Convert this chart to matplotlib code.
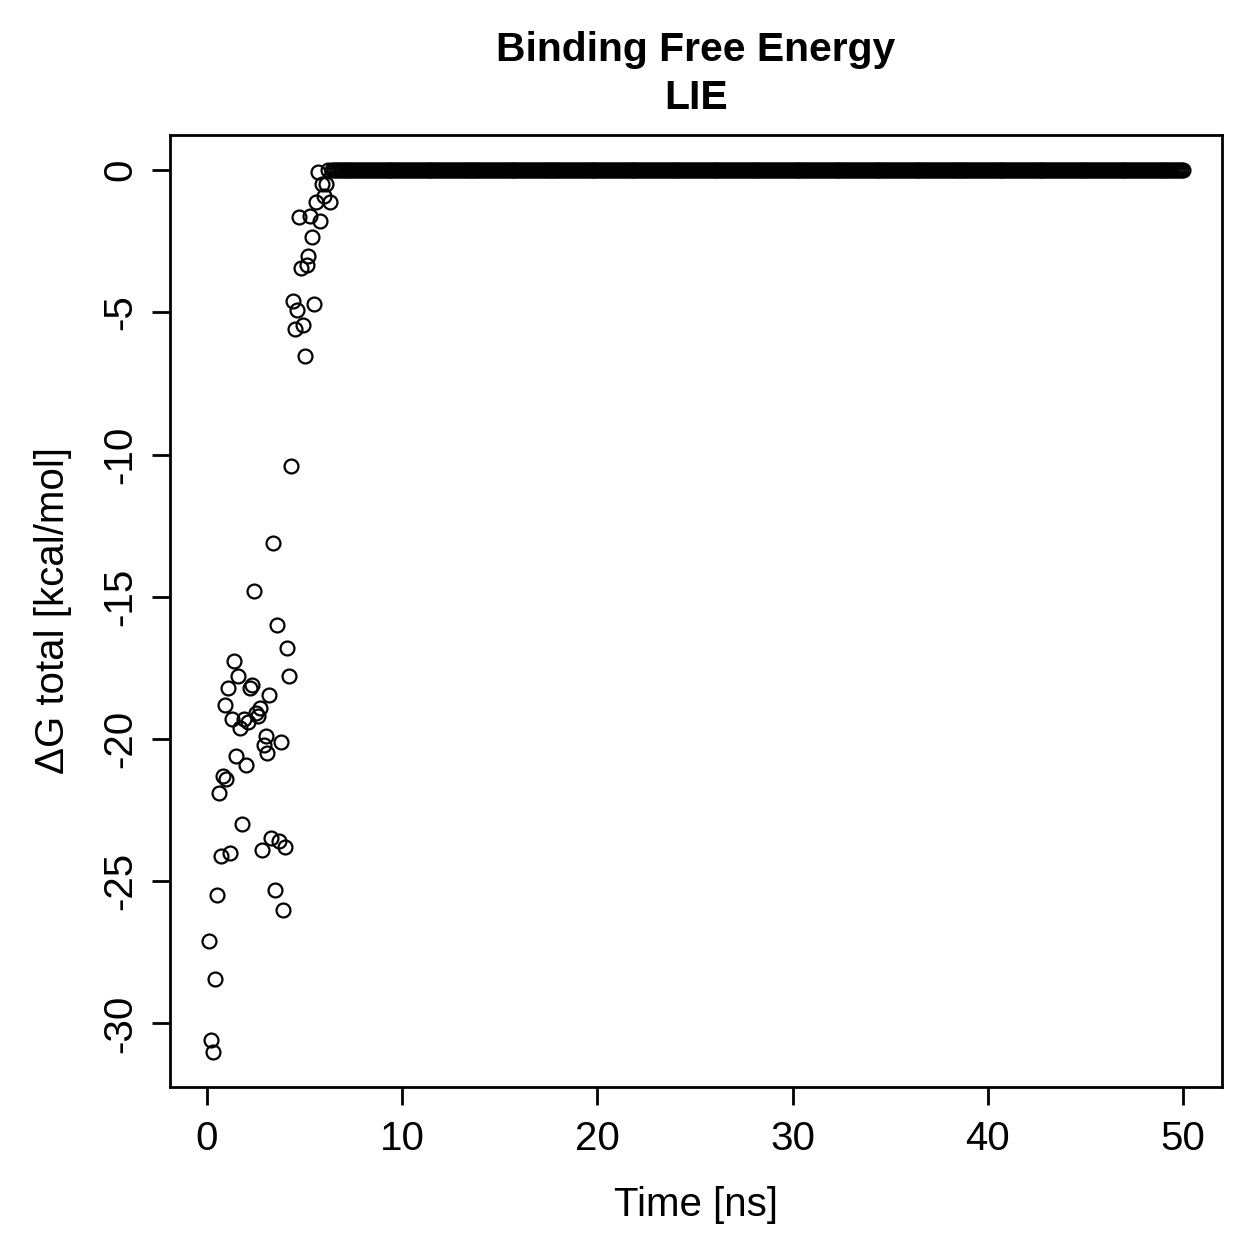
"""
Binding free energy (LIE) over simulation time, R base-graphics look
"""

import matplotlib
matplotlib.use('Agg')
import matplotlib.pyplot as plt
import numpy as np

# Time grid of the trajectory: one frame every 0.1 ns up to 50 ns
time_step = 0.1
n_frames = 500

# Read-off values for the first frames (0.1 ns .. 6.1 ns)
dg_early = [
    -27.1, -30.6, -31.0, -28.45, -25.5, -21.9, -24.1, -21.3, -18.8, -21.4,
    -18.2, -24.0, -19.3, -17.25, -20.6, -17.8, -19.6, -23.0, -19.3, -20.9,
    -19.4, -18.2, -18.1, -14.8, -19.1, -19.2, -18.9, -23.9, -20.2, -19.9,
    -20.5, -18.45, -23.5, -13.1, -25.3, -16.0, -23.6, -20.1, -26.0, -23.8,
    -16.8, -17.8, -10.4, -4.6, -5.6, -4.9, -1.65, -3.45, -5.45, -6.55,
    -3.35, -3.0, -1.6, -2.35, -4.7, -1.1, -0.05, -1.8, -0.5, -0.9,
    -0.5,
]
# Frames 6.2 ns .. 50 ns: read as 0 (the flat line); 6.3 ns sits below it
dg_tail = [0.0, -1.1] + [0.0] * (n_frames - len(dg_early) - 2)

time = np.arange(1, n_frames + 1) * time_step
dg_total = np.array(dg_early + dg_tail)

# Figure set up like an R png: 7 in at 180 dpi -> 1259 px
fig = plt.figure(figsize=(12.59, 12.59), dpi=100)
fig.subplots_adjust(left=0.135, right=0.9706, bottom=0.1366, top=0.8928)
ax = fig.add_subplot(111)

plt.rcParams['font.family'] = ['Liberation Sans', 'DejaVu Sans']
font = {'family': ['Liberation Sans', 'DejaVu Sans'], 'size': 29}

ax.plot(time, dg_total, linestyle='none', marker='o', markersize=10,
        markerfacecolor='none', markeredgecolor='black',
        markeredgewidth=1.6)

# R default 4% padding around the data range
x_pad = 0.04 * (time.max() - time.min())
y_pad = 0.04 * (dg_total.max() - dg_total.min())
ax.set_xlim(time.min() - x_pad, time.max() + x_pad)
ax.set_ylim(dg_total.min() - y_pad, dg_total.max() + y_pad)

ax.set_xticks(np.arange(0, 51, 10))
ax.set_yticks(np.arange(-30, 1, 5))
ax.set_xticklabels([str(v) for v in range(0, 51, 10)], fontdict=font)
ax.set_yticklabels([str(v) for v in range(-30, 1, 5)], fontdict=font,
                   rotation=90, va='center')
ax.tick_params(direction='out', length=13, width=2, color='black')
ax.tick_params(axis='x', pad=10.5)
ax.tick_params(axis='y', pad=9)
for spine in ax.spines.values():
    spine.set_linewidth(2)

ax.set_xlabel('Time [ns]', fontdict=font)
ax.set_ylabel('\u0394G total [kcal/mol]', fontdict=font)
ax.xaxis.set_label_coords(0.5, -0.104)
ax.yaxis.set_label_coords(-0.093, 0.5)

ax.set_title('Binding Free Energy\nLIE', fontfamily=font['family'],
             fontsize=29.4, fontweight='bold', linespacing=1.32, pad=19)

plt.savefig('out.png', dpi=100)
